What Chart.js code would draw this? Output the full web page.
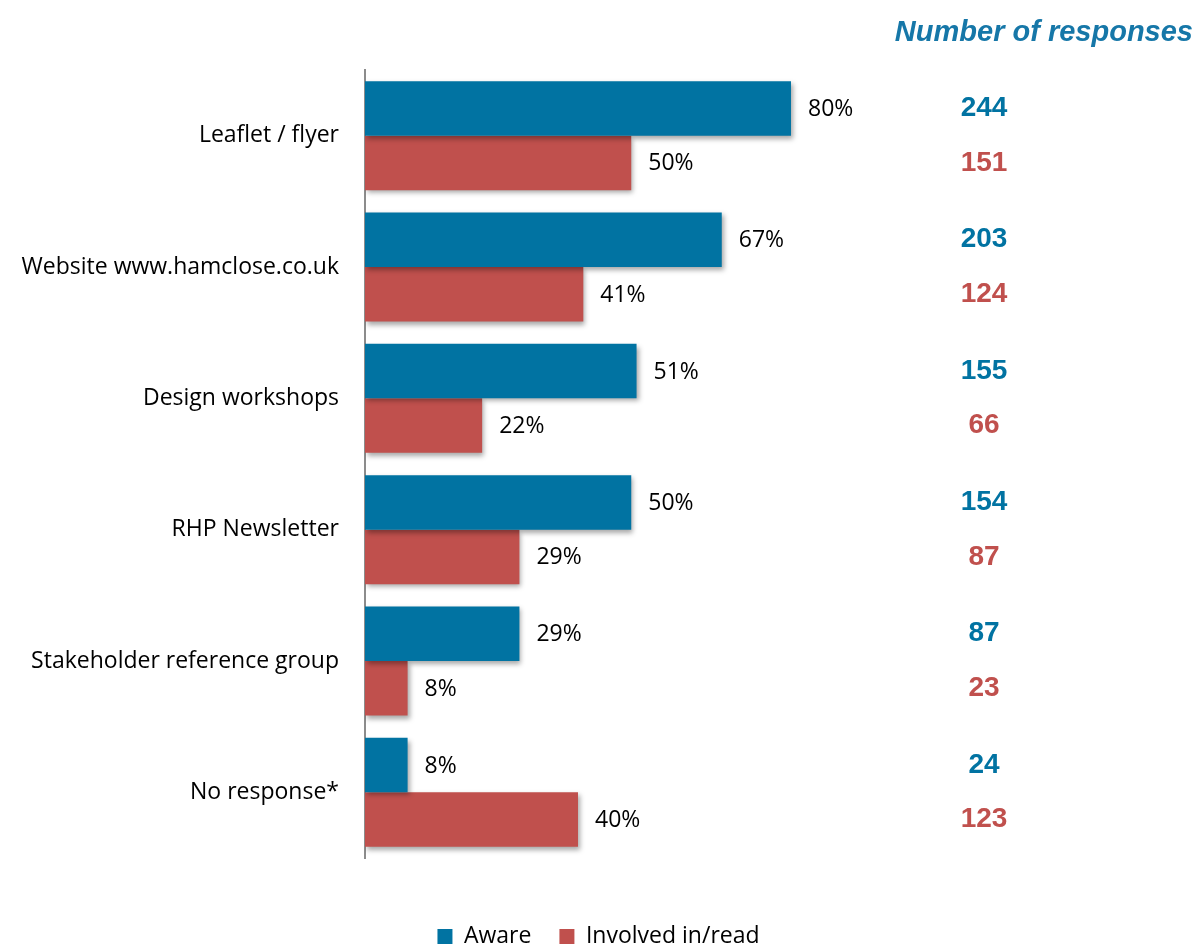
<!DOCTYPE html>
<html>
<head>
<meta charset="utf-8">
<script src="https://cdn.jsdelivr.net/npm/chart.js@4"></script>
<style>
  html, body { margin: 0; padding: 0; background: #fff; }
  #wrap { width: 1197px; height: 948px; }
</style>
</head>
<body>
<div id="wrap"><canvas id="chart" width="1197" height="948"></canvas></div>
<script>
// données
var categories = ["Leaflet / flyer", "Website www.hamclose.co.uk", "Design workshops",
                  "RHP Newsletter", "Stakeholder reference group", "No response*"];
var aware = [80, 67, 51, 50, 29, 8];
var involved = [50, 41, 22, 29, 8, 40];
var awareCount = [244, 203, 155, 154, 87, 24];
var involvedCount = [151, 124, 66, 87, 23, 123];

var BLUE = "#0173a2";
var RED = "#c0504d";
var labelFont = "Open Sans";

// ombre légère sous les barres
var shadowPlugin = {
    id: "barShadow",
    beforeDatasetsDraw: function (chart) {
        var ctx = chart.ctx;
        ctx.save();
        ctx.shadowColor = "rgba(0,0,0,0.35)";
        ctx.shadowBlur = 5;
        ctx.shadowOffsetX = 2;
        ctx.shadowOffsetY = 3;
    },
    afterDatasetsDraw: function (chart) {
        chart.ctx.restore();
    }
};

// pourcentages au bout des barres + colonne "Number of responses"
var labelsPlugin = {
    id: "barLabels",
    afterDraw: function (chart) {
        var ctx = chart.ctx;
        var counts = [awareCount, involvedCount];
        var colors = [BLUE, RED];
        ctx.save();
        chart.data.datasets.forEach(function (ds, i) {
            var meta = chart.getDatasetMeta(i);
            meta.data.forEach(function (bar, j) {
                ctx.font = "23px '" + labelFont + "'";
                ctx.fillStyle = "#000";
                ctx.textAlign = "left";
                ctx.textBaseline = "middle";
                ctx.fillText(ds.data[j] + "%", bar.x + 17, bar.y + 1);

                ctx.font = "bold 28px 'Liberation Sans', Arial";
                ctx.fillStyle = colors[i];
                ctx.textAlign = "center";
                ctx.fillText(counts[i][j], 984, bar.y);
            });
        });
        ctx.font = "italic bold 29px 'Liberation Sans', Arial";
        ctx.fillStyle = "#1677a8";
        ctx.textAlign = "right";
        ctx.textBaseline = "middle";
        ctx.fillText("Number of responses", 1193, 33);
        ctx.restore();
    }
};

var ctx = document.getElementById("chart").getContext("2d");
var chart = new Chart(ctx, {
    type: "bar",
    data: {
        labels: categories,
        datasets: [{
            label: "Aware",
            data: aware,
            backgroundColor: BLUE
        }, {
            label: "Involved in/read",
            data: involved,
            backgroundColor: RED
        }]
    },
    options: {
        indexAxis: "y",
        responsive: false,
        animation: false,
        layout: { padding: { top: 70, right: 0, left: 0, bottom: -10 } },
        datasets: {
            bar: { categoryPercentage: 0.83, barPercentage: 1.0 }
        },
        scales: {
            x: {
                min: 0,
                max: 156.25,
                grid: { display: false },
                border: { display: false },
                ticks: { display: false },
                afterFit: function (s) { s.height = 39; }
            },
            y: {
                grid: { display: false, drawTicks: false },
                border: { display: true, color: "#8c8c8c", width: 2 },
                ticks: {
                    color: "#000",
                    padding: 26,
                    font: { family: labelFont, size: 23 }
                },
                afterFit: function (s) { s.width = 365; }
            }
        },
        plugins: {
            tooltip: { enabled: false },
            legend: {
                position: "bottom",
                labels: {
                    color: "#000",
                    boxWidth: 15,
                    boxHeight: 15,
                    padding: 28,
                    font: { family: labelFont, size: 23 }
                }
            }
        }
    },
    plugins: [shadowPlugin, labelsPlugin]
});
</script>
</body>
</html>
